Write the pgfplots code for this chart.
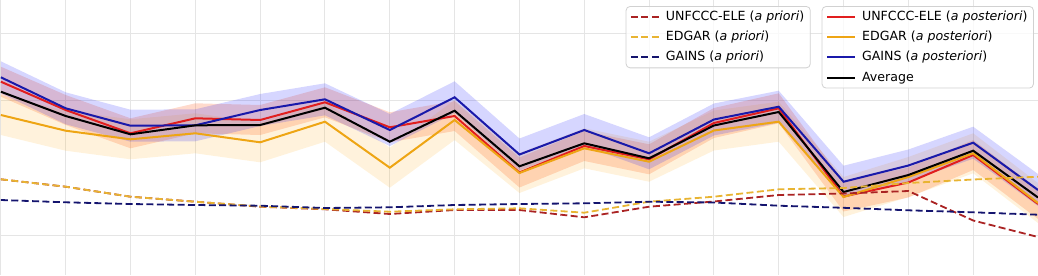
\documentclass[border=0pt]{standalone}
\usepackage{pgfplots}
\pgfplotsset{compat=1.18}
\usepackage{pgfplotstable}
\usepgfplotslibrary{fillbetween}
\usepackage{fontspec}
\setmainfont{DejaVu Sans}

\definecolor{redprior}{RGB}{170,35,35}
\definecolor{redpost}{RGB}{225,30,30}
\definecolor{yelprior}{RGB}{232,180,50}
\definecolor{yelpost}{RGB}{238,165,20}
\definecolor{bluprior}{RGB}{20,20,110}
\definecolor{blupost}{RGB}{25,25,170}
\definecolor{bandblue}{RGB}{0,0,255}
\definecolor{bandred}{RGB}{255,69,0}
\definecolor{bandyel}{RGB}{255,170,20}

\pgfplotstableread{
k bp bu bl rp ru rl yp yu yl avg rpr ypr bpr
0 197.7 213.7 181.7 193.3 208.3 178.3 160 180 140 183.3 95.7 95.7 75
1 166.7 182.7 150.7 165 180 150 144.3 164.3 124.3 159 88.3 88.3 72.7
2 149.3 165.3 133.3 141.7 156.7 126.7 135.7 155.7 115.7 140.7 78.3 78.3 71
3 149.7 165.7 133.7 156.7 171.7 141.7 141.7 161.7 121.7 149.7 73.3 73.3 70
4 165 181 149 155 170 140 132.7 152.7 112.7 150 68.3 68.5 69.3
5 175.7 191.7 159.7 172.7 187.7 157.7 153.3 173.3 133.3 167.3 65.7 66 67
6 145 161 129 147.7 162.7 132.7 107.3 127.3 87.3 133.3 61 63.3 67.7
7 177.7 193.7 161.7 159 174 144 155 175 135 164.3 65 65.7 70
8 120.5 136.5 104.5 102.5 117.5 87.5 102 122 82 108.7 65 66.7 71
9 145 161 129 129 144 114 126.7 146.7 106.7 131.7 57.7 62.3 71.7
10 121.7 137.7 105.7 115.7 130.7 100.7 113.3 133.3 93.3 116.7 68.3 73.3 73.3
11 155.5 171.5 139.5 152 167 137 144.5 164.5 124.5 149.5 73.5 78.3 72.5
12 168.3 184.3 152.3 166.7 181.7 151.7 153.3 173.3 133.3 163 80 85.7 69.3
13 93.3 109.3 77.3 78.5 93.5 63.5 78 98 58 83 81.5 87 67.2
14 109.5 125.5 93.5 92.5 107.5 77.5 98 118 78 100 84 92 64.7
15 132.3 148.3 116.3 120 135 105 121.7 141.7 101.7 124.3 54.5 95.5 62.7
16 85 101 69 71 86 56 72 92 52 77.5 38 98.3 60.3
}\data

\pgfplotsset{
  myaxis/.style={
    scale only axis, width=519pt, height=137.5pt,
    xmin=-0.0134, xmax=16, ymin=0, ymax=275,
    axis line style={draw=none}, tick style={draw=none},
    xticklabels={}, yticklabels={},
    clip=true,
    legend cell align=left,
    legend image code/.code={\draw[##1] (0pt,0pt) -- (14pt,0pt);},
    legend style={anchor=north east, draw=black!18, fill=white, fill opacity=0.8, text opacity=1,
      rounded corners=2pt, font=\fontsize{6.3}{7.5}\selectfont,
      inner xsep=2pt, inner ysep=1pt, row sep=1.6pt,
      nodes={inner sep=1pt, text height=5pt, text depth=1.5pt},
      /tikz/every odd column/.style={column sep=2pt}},
  }
}

\begin{document}
\begin{tikzpicture}
\begin{axis}[myaxis,
  xtick={0,...,16}, ytick={40,175,242},
  grid=major, grid style={color=black!10, line width=0.5pt},
  legend style={at={(0.996,0.978)}}]
\coordinate (sw) at (rel axis cs:0,0);
\coordinate (ne) at (rel axis cs:1,1);
% bands
\addplot[draw=none, name path=ru, forget plot] table[x=k,y=ru]{\data};
\addplot[draw=none, name path=rl, forget plot] table[x=k,y=rl]{\data};
\addplot[bandred, fill opacity=0.2, draw=none, forget plot] fill between[of=ru and rl];
\addplot[draw=none, name path=yu, forget plot] table[x=k,y=yu]{\data};
\addplot[draw=none, name path=yl, forget plot] table[x=k,y=yl]{\data};
\addplot[bandyel, fill opacity=0.15, draw=none, forget plot] fill between[of=yu and yl];
\addplot[draw=none, name path=bu, forget plot] table[x=k,y=bu]{\data};
\addplot[draw=none, name path=bl, forget plot] table[x=k,y=bl]{\data};
\addplot[bandblue, fill opacity=0.16, draw=none, forget plot] fill between[of=bu and bl];
% posterior lines
\addplot[redpost, line width=1pt] table[x=k,y=rp]{\data};
\addlegendentry{UNFCCC-ELE (\textit{a posteriori})}
\addplot[yelpost, line width=1pt] table[x=k,y=yp]{\data};
\addlegendentry{EDGAR (\textit{a posteriori})}
\addplot[blupost, line width=1pt] table[x=k,y=bp]{\data};
\addlegendentry{GAINS (\textit{a posteriori})}
\addplot[black, line width=1pt] table[x=k,y=avg]{\data};
\addlegendentry{Average}
\end{axis}
\begin{axis}[myaxis, xtick=\empty, ytick=\empty,
  legend style={at={(0.781,0.978)}}]
\addplot[redprior, line width=0.9pt, dash pattern=on 3.5pt off 1.7pt] table[x=k,y=rpr]{\data};
\addlegendentry{UNFCCC-ELE (\textit{a priori})}
\addplot[yelprior, line width=0.9pt, dash pattern=on 3.5pt off 1.7pt] table[x=k,y=ypr]{\data};
\addlegendentry{EDGAR (\textit{a priori})}
\addplot[bluprior, line width=0.9pt, dash pattern=on 3.5pt off 1.7pt] table[x=k,y=bpr]{\data};
\addlegendentry{GAINS (\textit{a priori})}
\end{axis}
\pgfresetboundingbox
\path[use as bounding box] (sw) rectangle (ne);
\end{tikzpicture}
\end{document}
